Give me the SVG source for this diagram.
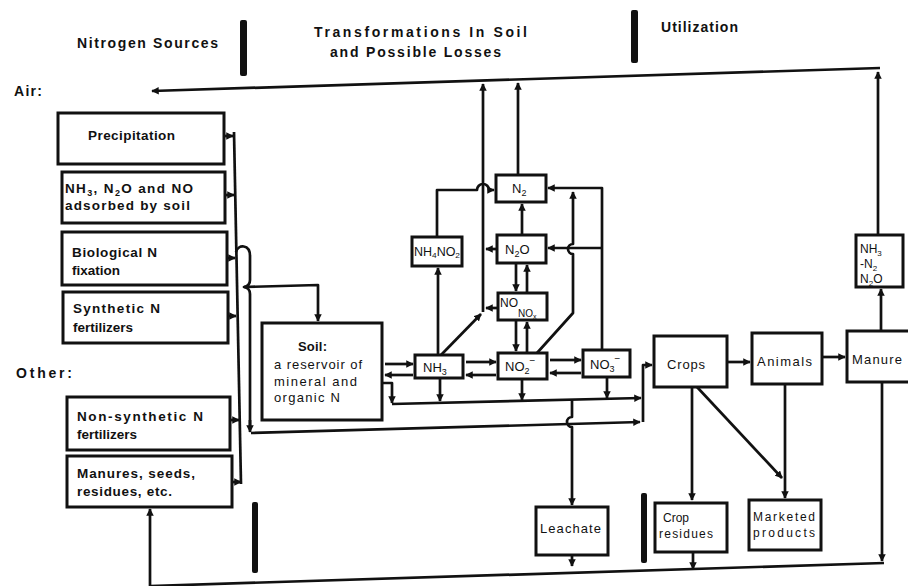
<svg xmlns="http://www.w3.org/2000/svg" width="908" height="586" viewBox="0 0 908 586">
<style>
.bx{fill:#fff;stroke:#111;stroke-width:3}
.ln{fill:none;stroke:#111;stroke-width:2.7;stroke-linejoin:round}
.ar{marker-end:url(#ah)}
.t{font-family:"Liberation Sans",Arial,sans-serif;fill:#111}
.hd{font-weight:bold;font-size:14px}
.tb{font-weight:bold;font-size:13.5px}
.tn{font-size:13px}
.ts{font-size:12px}
.bar{fill:#111}
</style>
<defs>
<marker id="ah" viewBox="0 0 10 10" refX="9" refY="5" markerWidth="7.5" markerHeight="7.5" markerUnits="userSpaceOnUse" orient="auto"><path d="M0,0 L10,5 L0,10 z" fill="#111"/></marker>
</defs>
<rect width="908" height="586" fill="#fff"/>

<g id="headers" class="t">
<text class="hd" x="77" y="48" textLength="141" lengthAdjust="spacing">Nitrogen Sources</text>
<text class="hd" x="314" y="37" textLength="213" lengthAdjust="spacing">Transformations In Soil</text>
<text class="hd" x="330" y="57" textLength="171" lengthAdjust="spacing">and Possible Losses</text>
<text class="hd" x="661" y="32" textLength="77" lengthAdjust="spacing">Utilization</text>
<text class="hd" x="14" y="96" textLength="28" lengthAdjust="spacing">Air:</text>
<text class="hd" x="16" y="378" textLength="56" lengthAdjust="spacing">Other:</text>
<rect class="bar" x="240" y="20" width="7" height="56" rx="2"/>
<rect class="bar" x="631" y="10" width="7" height="53" rx="2"/>
<rect class="bar" x="252" y="502" width="6" height="71" rx="2"/>
<rect class="bar" x="641" y="493" width="6" height="70" rx="2"/>
</g>

<g id="precipitation"><rect class="bx" x="58" y="113" width="166" height="51"/><text class="t tb" x="88" y="140" textLength="87" lengthAdjust="spacing">Precipitation</text></g>
<g id="adsorbed"><rect class="bx" x="62" y="172" width="163" height="51"/>
<text class="t tb" x="65" y="193" textLength="128" lengthAdjust="spacing">NH<tspan font-size="9" dy="3">3</tspan><tspan dy="-3">, N</tspan><tspan font-size="9" dy="3">2</tspan><tspan dy="-3">O and NO</tspan></text>
<text class="t tb" x="65" y="210" textLength="125" lengthAdjust="spacing">adsorbed by soil</text></g>
<g id="biological"><rect class="bx" x="62" y="232" width="165" height="53"/>
<text class="t tb" x="72" y="257" textLength="85" lengthAdjust="spacing">Biological N</text>
<text class="t tb" x="72" y="275">fixation</text></g>
<g id="synthetic"><rect class="bx" x="63" y="292" width="165" height="51"/>
<text class="t tb" x="73" y="313" textLength="87" lengthAdjust="spacing">Synthetic N</text>
<text class="t tb" x="73" y="332">fertilizers</text></g>
<g id="nonsynthetic"><rect class="bx" x="67" y="397" width="163" height="53"/>
<text class="t tb" x="77" y="421" textLength="126" lengthAdjust="spacing">Non-synthetic N</text>
<text class="t tb" x="77" y="439">fertilizers</text></g>
<g id="manures"><rect class="bx" x="67" y="456" width="165" height="51"/>
<text class="t tb" x="77" y="478" textLength="118" lengthAdjust="spacing">Manures, seeds,</text>
<text class="t tb" x="77" y="496" textLength="95" lengthAdjust="spacing">residues, etc.</text></g>

<g id="soil"><rect class="bx" x="262" y="323" width="120" height="97"/>
<text class="t tn" x="298" y="351" font-weight="bold" textLength="29" lengthAdjust="spacing">Soil:</text>
<text class="t tn" x="274" y="369" textLength="88" lengthAdjust="spacing">a reservoir of</text>
<text class="t tn" x="274" y="386" textLength="83" lengthAdjust="spacing">mineral and</text>
<text class="t tn" x="274" y="402" textLength="66" lengthAdjust="spacing">organic N</text></g>

<g id="nh4no2"><rect class="bx" x="412" y="237" width="50" height="29"/><text class="t ts" x="414" y="256" textLength="46" lengthAdjust="spacingAndGlyphs">NH<tspan font-size="8" dy="2">4</tspan><tspan dy="-2">NO</tspan><tspan font-size="8" dy="2">2</tspan></text></g>
<g id="n2"><rect class="bx" x="496" y="175" width="50" height="27"/><text class="t tn" x="512" y="193">N<tspan font-size="9" dy="3">2</tspan></text></g>
<g id="n2o"><rect class="bx" x="497" y="235" width="49" height="28"/><text class="t tn" x="505" y="254">N<tspan font-size="9" dy="3">2</tspan><tspan dy="-3">O</tspan></text></g>
<g id="nox"><rect class="bx" x="498" y="293" width="49" height="27"/><text class="t ts" x="500" y="307">NO</text><text class="t" font-size="10" x="518" y="317">NO<tspan font-size="7" dy="2">x</tspan></text></g>
<g id="nh3"><rect class="bx" x="415" y="355" width="48" height="23"/><text class="t tn" x="423" y="372">NH<tspan font-size="9" dy="3">3</tspan></text></g>
<g id="no2"><rect class="bx" x="498" y="353" width="49" height="26"/><text class="t tn" x="505" y="371">NO<tspan font-size="9" dy="3">2</tspan><tspan font-size="10" dy="-10">−</tspan></text></g>
<g id="no3"><rect class="bx" x="583" y="350" width="47" height="27"/><text class="t tn" x="590" y="369">NO<tspan font-size="9" dy="3">3</tspan><tspan font-size="10" dy="-10">−</tspan></text></g>

<g id="crops"><rect class="bx" x="654" y="336" width="73" height="51"/><text class="t tn" x="667" y="369" textLength="38" lengthAdjust="spacing">Crops</text></g>
<g id="animals"><rect class="bx" x="752" y="333" width="70" height="51"/><text class="t tn" x="757" y="366" textLength="55" lengthAdjust="spacing">Animals</text></g>
<g id="manure"><rect class="bx" x="847" y="331" width="70" height="51"/><text class="t tn" x="852" y="364" textLength="50" lengthAdjust="spacing">Manure</text></g>
<g id="gases"><rect class="bx" x="856" y="235" width="47" height="52"/>
<text class="t ts" x="860" y="253">NH<tspan font-size="8" dy="3">3</tspan></text>
<text class="t ts" x="860" y="268">-N<tspan font-size="8" dy="3">2</tspan></text>
<text class="t ts" x="860" y="283">N<tspan font-size="8" dy="3">2</tspan><tspan dy="-3">O</tspan></text></g>
<g id="leachate"><rect class="bx" x="536" y="507" width="72" height="48"/><text class="t tn" x="540" y="533" textLength="61" lengthAdjust="spacing">Leachate</text></g>
<g id="cropresidues"><rect class="bx" x="655" y="503" width="72" height="49"/><text class="t ts" x="663" y="522">Crop</text><text class="t ts" x="659" y="538" textLength="54" lengthAdjust="spacing">residues</text></g>
<g id="marketed"><rect class="bx" x="749" y="500" width="72" height="50"/><text class="t ts" x="753" y="521" textLength="62" lengthAdjust="spacing">Marketed</text><text class="t ts" x="753" y="537" textLength="62" lengthAdjust="spacing">products</text></g>

<g id="connectors">
<path class="ln ar" d="M878,235 V72"/>
<path class="ln ar" d="M880,68 L152,91"/>
<path class="ln ar" d="M483,312 V84"/>
<path class="ln ar" d="M518,175 V83"/>
<path class="ln ar" d="M224,136 H233"/>
<path class="ln ar" d="M225,195 H234"/>
<path class="ln ar" d="M227,258 H235"/>
<path class="ln ar" d="M228,316 H236"/>
<path class="ln ar" d="M230,420 H239"/>
<path class="ln ar" d="M232,482 H241"/>
<path class="ln" d="M234,132 L241,484"/>
<path class="ln" d="M236,252 C238,244 250,244 250,256 V280 Q250,286 244,287 Q250,288 250,294 V428"/>
<path class="ln ar" d="M250,420 V432"/>
<path class="ln ar" d="M244,287 L318,285 V321"/>
<path class="ln ar" d="M251,433 L640,422"/>
<path class="ln ar" d="M385,364 H413"/>
<path class="ln ar" d="M413,375 H385"/>
<path class="ln ar" d="M466,362 H496"/>
<path class="ln ar" d="M496,375 H466"/>
<path class="ln ar" d="M550,360 H581"/>
<path class="ln ar" d="M581,373 H550"/>
<path class="ln ar" d="M382,383 H392 V403"/>
<path class="ln ar" d="M392,404 L641,398"/>
<path class="ln ar" d="M440,378 V401"/>
<path class="ln ar" d="M522,379 V400"/>
<path class="ln ar" d="M607,377 V398"/>
<path class="ln ar" d="M572,400 V417 a5,5 0 0 0 0,10 V505"/>
<path class="ln ar" d="M438,355 V268"/>
<path class="ln ar" d="M437,237 V190 H477 a6,6 0 0 1 12,0 H494"/>
<path class="ln ar" d="M441,355 L481,314"/>
<path class="ln ar" d="M498,308 H486"/>
<path class="ln ar" d="M497,249 H486"/>
<path class="ln ar" d="M522,235 V204"/>
<path class="ln ar" d="M516,264 V291"/>
<path class="ln ar" d="M527,292 V265"/>
<path class="ln ar" d="M516,321 V351"/>
<path class="ln ar" d="M527,352 V322"/>
<path class="ln ar" d="M537,353 L573,313 V254 a5,5 0 0 1 0,-10 V192"/>
<path class="ln ar" d="M602,350 V188 H548"/>
<path class="ln ar" d="M602,248 H548"/>
<path class="ln ar" d="M643,422 V365 H652"/>
<path class="ln ar" d="M727,362 H750"/>
<path class="ln ar" d="M822,357 H845"/>
<path class="ln ar" d="M881,331 V289"/>
<path class="ln ar" d="M882,382 V561"/>
<path class="ln" d="M884,563 L150,586"/>
<path class="ln ar" d="M150,586 V509"/>
<path class="ln ar" d="M692,387 V500"/>
<path class="ln ar" d="M697,387 L782,478"/>
<path class="ln ar" d="M785,384 V498"/>
<path class="ln ar" d="M572,555 V566"/>
<path class="ln ar" d="M693,552 V569"/>
</g>
</svg>
